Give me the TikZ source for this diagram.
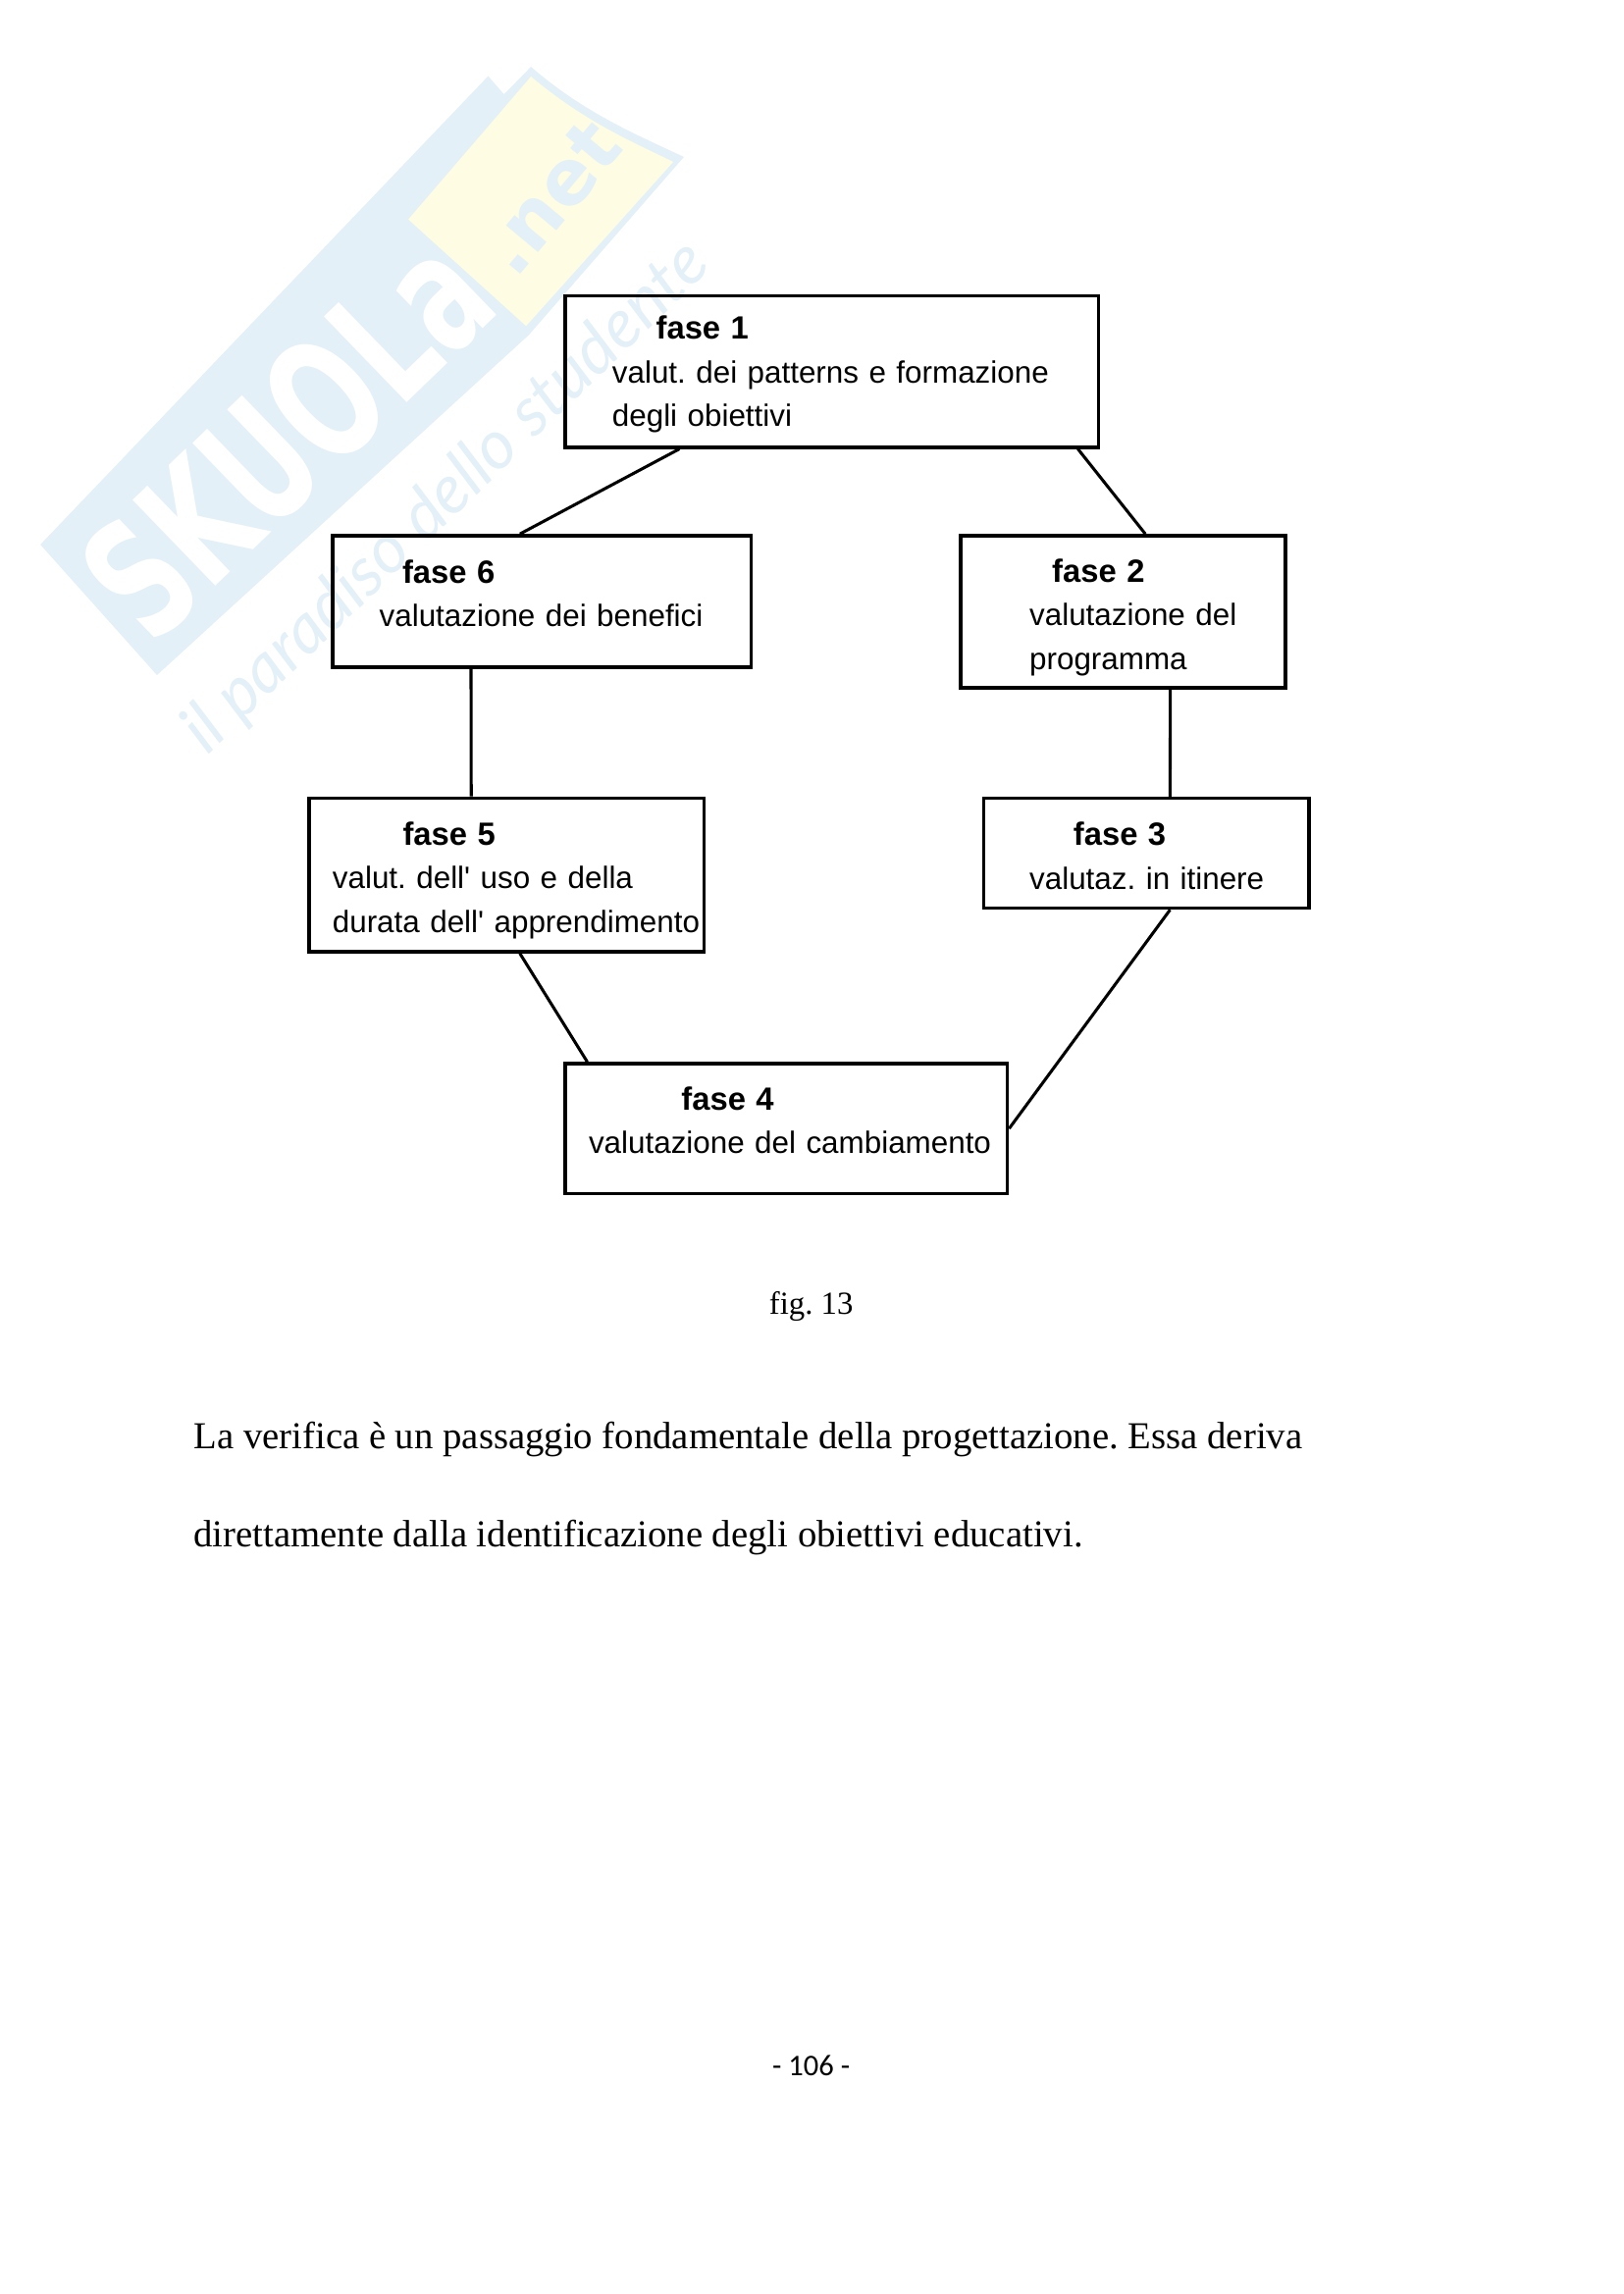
\documentclass[tikz,border=0pt]{standalone}
\usepackage{fontspec}
\setmainfont{Liberation Serif}
\newfontfamily\boxfont{Liberation Sans}
\newfontfamily\calfont{Carlito}
\newfontfamily\markfont{DejaVu Sans}
\newfontfamily\mottofont{Lato}
\usetikzlibrary{positioning, calc}
\definecolor{markblue}{HTML}{E3F0F8}
\definecolor{markyellow}{HTML}{FEFDE3}
\newcommand{\fasetitle}[2]{\hspace*{#1}\rule{0pt}{10.5pt}{\fontsize{11.8}{16}\selectfont\textbf{fase #2}}}

\begin{document}
\frenchspacing
\begin{tikzpicture}[fasebox/.style 2 args={draw, line width=1.2pt, anchor=north west, align=left, inner xsep=8.6pt, inner ysep=0pt, text width=#1, minimum height=#2, font=\boxfont\fontsize{11.3}{16}\selectfont}, link/.style={line width=1.1pt}, bodytext/.style={anchor=west, inner sep=0pt, font=\fontsize{13.95}{16}\selectfont}]
      \useasboundingbox (0,0) rectangle (595.44pt,-841.68pt);

      % watermark
      \fill[markblue] (14.8pt,-199.8pt) -- (179.1pt,-27.9pt) -- (184.9pt,-34.6pt) -- (194.8pt,-24.5pt) .. controls (215pt,-42pt) and (235pt,-50pt) .. (250.9pt,-57.6pt) -- (194pt,-122.9pt) -- (57.6pt,-247.7pt) -- cycle;
      \fill[markyellow] (149.8pt,-80.5pt) -- (194.8pt,-28.1pt) .. controls (215pt,-45pt) and (232pt,-52pt) .. (247pt,-59.4pt) -- (193pt,-119.6pt) -- cycle;
      \node[rotate=44, text=white, inner sep=0pt, font=\markfont\bfseries\fontsize{60}{60}\selectfont, xscale=.67, transform shape] (markname) at (105pt,-160pt) {SKUOLa};
      \node[rotate=50, text=markblue, inner sep=0pt, font=\markfont\bfseries\fontsize{28}{28}\selectfont] (marknet) at (202pt,-72.4pt) {.net};
      \node[rotate=44, text=markblue, inner sep=0pt, font=\mottofont\itshape\fontsize{25}{25}\selectfont] (markmotto) at (163.8pt,-182.6pt) {il paradiso dello studente};

      \node[fasebox={178.3pt}{55.5pt}] (fase1) at (206.8pt,-108pt) {\fasetitle{24.7pt}{1}\\\hspace*{8.6pt}valut. dei patterns e formazione\\\hspace*{8.6pt}degli obiettivi};
      \node[fasebox={136.4pt}{48.3pt}, below=31.2pt of fase1.south west, xshift=-85.4pt, anchor=north west] (fase6) {\fasetitle{17pt}{6}\\\hspace*{8.6pt}valutazione dei benefici\\[-8pt]\mbox{}};
      \node[fasebox={102pt}{55.9pt}, below=31.2pt of fase1.south west, xshift=145pt, anchor=north west] (fase2) {\rule{0pt}{12.5pt}\fasetitle{25pt}{2}\\\hspace*{16.7pt}valutazione del\\\hspace*{16.7pt}programma};
      \node[fasebox={127.8pt}{56.4pt}, below=46.8pt of fase6.south west, xshift=-8.6pt, anchor=north west] (fase5) {\rule{0pt}{12.5pt}\fasetitle{25.8pt}{5}\\valut. dell' uso e della\\\mbox{durata dell' apprendimento}};
      \node[fasebox={102pt}{40.3pt}, below=39.3pt of fase2.south west, xshift=8.6pt, anchor=north west] (fase3) {\fasetitle{24.2pt}{3}\\\hspace*{8.1pt}valutaz. in itinere};
      \node[fasebox={145pt}{47.8pt}, below=39.8pt of fase5.south west, xshift=94pt, anchor=north west] (fase4) {\fasetitle{34pt}{4}\\\mbox{valutazione del cambiamento}\\[-8pt]\mbox{}};

      \draw[link] ($(fase1.south west)!.216!(fase1.south east)$) -- ($(fase6.north west)!.448!(fase6.north east)$);
      \draw[link] ($(fase1.south west)!.959!(fase1.south east)$) -- ($(fase2.north west)!.568!(fase2.north east)$);
      \draw[link] ($(fase6.south west)!.332!(fase6.south east)$) -- ($(fase5.north west)!.411!(fase5.north east)$);
      \draw[link] ($(fase2.south west)!.644!(fase2.south east)$) -- ($(fase3.north west)!.572!(fase3.north east)$);
      \draw[link] ($(fase3.south west)!.572!(fase3.south east)$) -- (fase4.east);
      \draw[link] ($(fase5.south west)!.533!(fase5.south east)$) -- ($(fase4.north west)!.053!(fase4.north east)$);

      \node[bodytext, font=\fontsize{11.8}{14}\selectfont, anchor=center] (didascalia) at (297.6pt,-479.5pt) {fig. 13};
      \node[bodytext] (riga1) at (70.9pt,-528pt) {La verifica è un passaggio fondamentale della progettazione. Essa deriva};
      \node[bodytext] (riga2) at (70.9pt,-564pt) {direttamente dalla identificazione degli obiettivi educativi.};
      \node[bodytext, font=\calfont\fontsize{11}{14}\selectfont, anchor=center] (pagina) at (297.6pt,-758pt) {- 106 -};
    \end{tikzpicture}
\end{document}
